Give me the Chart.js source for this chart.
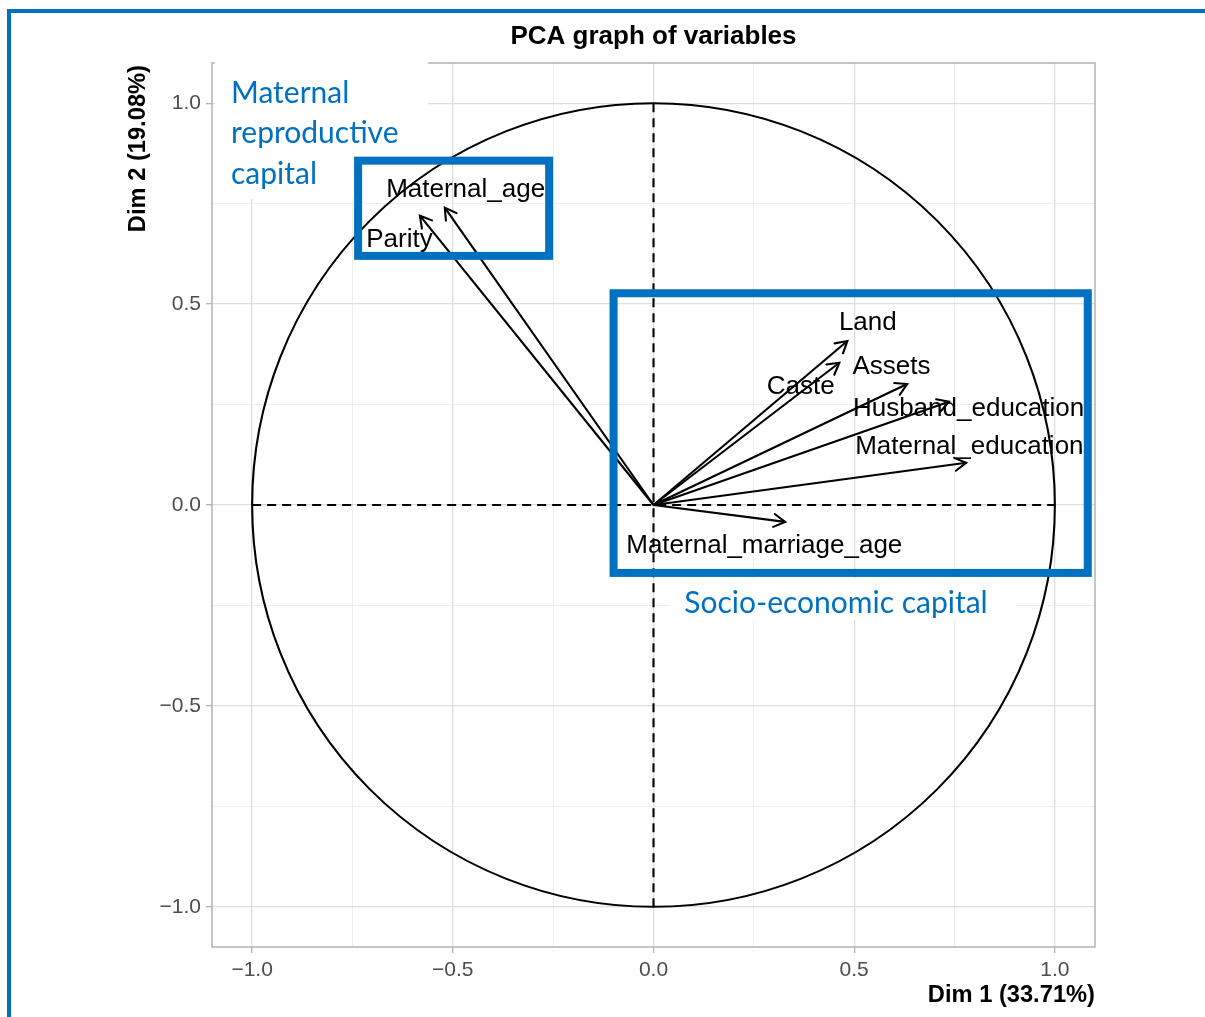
<!DOCTYPE html>
<html><head><meta charset="utf-8">
<script src="https://cdn.jsdelivr.net/npm/chart.js@4.4.1/dist/chart.umd.min.js"></script>
<style>html,body{margin:0;padding:0;background:#fff;overflow:hidden}canvas{display:block}</style>
</head><body>
<canvas id="c" width="1205" height="1017"></canvas>
<script>
// ---- data ----
const variables = ['Maternal_age','Parity','Land','Caste','Assets','Husband_education','Maternal_education','Maternal_marriage_age'];
const dim1 = [-0.520, -0.582, 0.483, 0.463, 0.632, 0.736, 0.779, 0.328];
const dim2 = [ 0.740,  0.720, 0.408, 0.354, 0.301, 0.257, 0.105, -0.042];
const labelDim1 = [-0.468, -0.633, 0.534, 0.367, 0.593, 0.785, 0.787, 0.276];
const labelDim2 = [ 0.790,  0.666, 0.458, 0.299, 0.349, 0.244, 0.149, -0.097];
const tickValues = [-1, -0.75, -0.5, -0.25, 0, 0.25, 0.5, 0.75, 1];
const majorTicks = [-1, -0.5, 0, 0.5, 1];
const groupNames = [['Maternal', 'reproductive', 'capital'], ['Socio-economic capital']];
const chartTitle = 'PCA graph of variables';
const xTitle = 'Dim 1 (33.71%)';
const yTitle = 'Dim 2 (19.08%)';

const SANS = '"Liberation Sans", Arial, Helvetica, sans-serif';
const BLUE = '#0070C0';
const isMajor = v => majorTicks.includes(v);
const fmt = v => v.toFixed(1).replace('-', '\u2212');

const decor = {
  id: 'decor',
  beforeDatasetsDraw(chart) {
    const {ctx, chartArea: a, scales: {x, y}} = chart;
    const px = v => x.getPixelForValue(v), py = v => y.getPixelForValue(v);
    ctx.save();
    // panel border
    ctx.strokeStyle = '#b3b3b3'; ctx.lineWidth = 1.5;
    ctx.strokeRect(a.left, a.top, a.right - a.left, a.bottom - a.top);
    // white backgrounds behind group captions
    ctx.fillStyle = '#fff';
    const wb = [[-1.093, -0.562, 1.16, 0.762], [0.042, 0.905, -0.182, -0.286]];
    wb.forEach(([x0, x1, y0, y1]) => ctx.fillRect(px(x0), py(y0), px(x1) - px(x0), py(y1) - py(y0)));
    // unit circle
    ctx.strokeStyle = '#000'; ctx.lineWidth = 2.1;
    const cx = px(0), cy = py(0);
    ctx.beginPath();
    ctx.ellipse(cx, cy, px(1) - cx, cy - py(1), 0, 0, Math.PI * 2);
    ctx.stroke();
    // dashed axes
    ctx.setLineDash([9, 6]);
    ctx.beginPath();
    ctx.moveTo(px(-1), cy); ctx.lineTo(px(1), cy);
    ctx.moveTo(cx, py(1)); ctx.lineTo(cx, py(-1));
    ctx.stroke();
    ctx.restore();
  },
  afterDatasetsDraw(chart) {
    const {ctx, chartArea: a, scales: {x, y}} = chart;
    const px = v => x.getPixelForValue(v), py = v => y.getPixelForValue(v);
    ctx.save();
    // arrow heads
    ctx.strokeStyle = '#000'; ctx.lineWidth = 2.1; ctx.lineCap = 'round';
    const ox = px(0), oy = py(0);
    variables.forEach((n, i) => {
      const tx = px(dim1[i]), ty = py(dim2[i]);
      const ang = Math.atan2(ty - oy, tx - ox);
      const L = 13, w = Math.PI / 6;
      ctx.beginPath();
      ctx.moveTo(tx - L * Math.cos(ang - w), ty - L * Math.sin(ang - w));
      ctx.lineTo(tx, ty);
      ctx.lineTo(tx - L * Math.cos(ang + w), ty - L * Math.sin(ang + w));
      ctx.stroke();
    });
    // variable labels
    ctx.fillStyle = '#000';
    ctx.font = '26px ' + SANS;
    ctx.textAlign = 'center'; ctx.textBaseline = 'middle';
    variables.forEach((n, i) => ctx.fillText(n, px(labelDim1[i]), py(labelDim2[i]) + 2));
    // blue group boxes
    ctx.strokeStyle = BLUE; ctx.lineWidth = 8; ctx.lineCap = 'butt';
    const bb = [[-0.736, -0.260, 0.857, 0.620], [-0.0995, 1.082, 0.527, -0.169]];
    bb.forEach(([x0, x1, y0, y1]) => ctx.strokeRect(px(x0), py(y0), px(x1) - px(x0), py(y1) - py(y0)));
    // group captions
    ctx.fillStyle = BLUE;
    ctx.font = '30px Lato, "Open Sans", sans-serif';
    ctx.textAlign = 'left';
    groupNames[0].forEach((t, k) => ctx.fillText(t, 231, 93 + k * 40.5));
    ctx.textAlign = 'center';
    ctx.fillText(groupNames[1][0], 836, 603);
    ctx.restore();
  },
  afterDraw(chart) {
    const {ctx, chartArea: a} = chart;
    ctx.save();
    ctx.fillStyle = '#000';
    ctx.font = 'bold 26px ' + SANS;
    ctx.textAlign = 'center'; ctx.textBaseline = 'middle';
    ctx.fillText(chartTitle, (a.left + a.right) / 2, 37);
    ctx.font = 'bold 23.7px ' + SANS;
    ctx.textAlign = 'right';
    ctx.fillText(xTitle, a.right, 995);
    ctx.translate(138, 65); ctx.rotate(-Math.PI / 2);
    ctx.fillText(yTitle, 0, 0);
    ctx.restore();
    // figure frame
    ctx.save();
    ctx.strokeStyle = BLUE; ctx.lineWidth = 4;
    ctx.beginPath();
    ctx.moveTo(9, 1017); ctx.lineTo(9, 11); ctx.lineTo(1205, 11);
    ctx.stroke();
    ctx.restore();
  }
};

const axisCommon = {
  type: 'linear', min: -1.1, max: 1.1,
  afterBuildTicks: s => { s.ticks = tickValues.map(v => ({value: v})); },
  border: {display: false},
  grid: {
    color: c => isMajor(c.tick.value) ? '#dedede' : '#ececec',
    lineWidth: c => isMajor(c.tick.value) ? 1.3 : 0.9,
    tickColor: c => isMajor(c.tick.value) ? '#b3b3b3' : 'rgba(0,0,0,0)',
    tickLength: 6, tickWidth: 1.3
  },
  ticks: {
    autoSkip: false, maxRotation: 0, padding: 5, color: '#4d4d4d',
    font: {family: SANS, size: 21},
    callback: v => isMajor(v) ? fmt(v) : ''
  }
};

new Chart(document.getElementById('c'), {
  type: 'scatter',
  data: {
    datasets: variables.map((n, i) => ({
      label: n,
      data: [{x: 0, y: 0}, {x: dim1[i], y: dim2[i]}],
      showLine: true, borderColor: '#000', borderWidth: 2.1, pointRadius: 0, fill: false
    }))
  },
  options: {
    responsive: false, animation: false,
    layout: {padding: {top: 63, right: 110, left: 0, bottom: 0}},
    plugins: {legend: {display: false}, tooltip: {enabled: false}, title: {display: false}},
    scales: {
      x: Object.assign({}, axisCommon, {afterFit: s => { s.height = 70; }}),
      y: Object.assign({}, axisCommon, {afterFit: s => { s.width = 212; }})
    }
  },
  plugins: [decor]
});
</script>
</body></html>
